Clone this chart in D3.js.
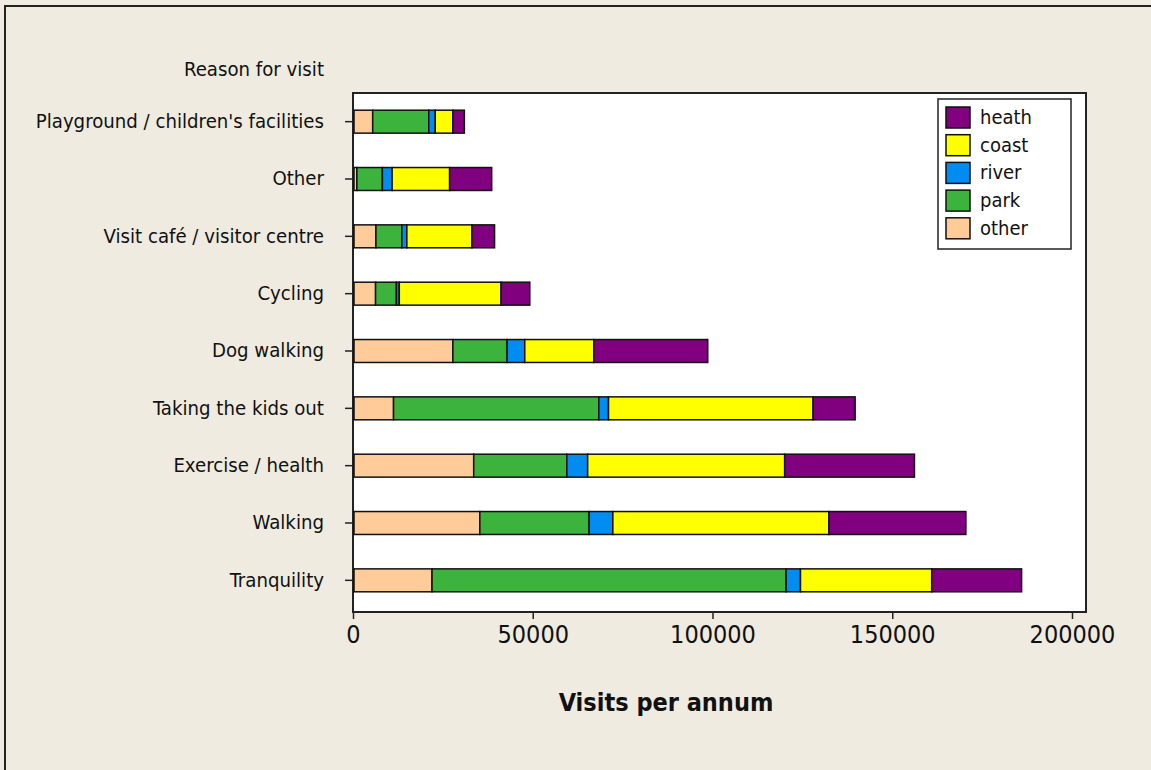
<!DOCTYPE html>
<html>
<head>
<meta charset="utf-8">
<script src="https://cdn.jsdelivr.net/npm/d3@7"></script>
<style>
  body { margin: 0; background: #efebe0; }
  svg { display: block; }
  text { font-family: "DejaVu Sans Condensed", "DejaVu Sans", sans-serif; fill: #111; }
</style>
</head>
<body>
<svg id="chart" width="1151" height="770"></svg>
<script>
// reasons, top to bottom
var reasons = ["Playground / children's facilities", "Other", "Visit café / visitor centre", "Cycling",
	"Dog walking", "Taking the kids out", "Exercise / health", "Walking", "Tranquility"];

// visits per annum by site type
var other = [5200, 800, 6100, 6000, 27500, 11000, 33300, 35000, 21700];
var park  = [15600, 7100, 7200, 5800, 15100, 57100, 25900, 30400, 98500];
var river = [1800, 2700, 1400, 800, 4900, 2700, 5800, 6600, 4000];
var coast = [4900, 16000, 18100, 28300, 19200, 56900, 54800, 60100, 36500];
var heath = [3200, 11700, 6300, 8000, 31700, 11700, 36100, 38100, 25000];

var keys = ["other", "park", "river", "coast", "heath"];
var colours = ["#ffcc99", "#3cb33c", "#008cf0", "#ffff00", "#800080"];
var xTicks = [0, 50000, 100000, 150000, 200000];

var margin = {top: 93, left: 353, right: 65, bottom: 159};

var svg = d3.select("#chart");

// outer frame
svg.append("rect")
	.attr("x", 5).attr("y", 6)
	.attr("width", 1160).attr("height", 780)
	.attr("fill", "#efebe0")
	.attr("stroke", "#222")
	.attr("stroke-width", 2);

var width = 1151 - margin.left - margin.right,
	height = 770 - margin.top - margin.bottom;

var x = d3.scaleLinear()
	.domain([0, 200000])
	.range([0, 1072 - margin.left]);

var y = d3.scaleBand()
	.domain(reasons)
	.range([0, 516])
	.paddingInner(0.6)
	.paddingOuter(0.3);

var g = svg.append("g")
	.attr("transform", "translate(" + margin.left + "," + margin.top + ")");

g.append("rect")
	.attr("width", 1086 - margin.left)
	.attr("height", height + 1)
	.attr("fill", "#fff")
	.attr("stroke", "#222")
	.attr("stroke-width", 2);

var table = reasons.map(function(r, i) {
	return {reason: r, other: other[i], park: park[i], river: river[i], coast: coast[i], heath: heath[i]};
});

var series = d3.stack().keys(keys)(table);

g.selectAll("g.layer")
	.data(series)
	.enter().append("g")
	.attr("class", "layer")
	.attr("fill", function(d, i) { return colours[i]; })
	.selectAll("rect")
	.data(function(d) { return d; })
	.enter().append("rect")
	.attr("x", function(d) { return x(d[0]) + 1; })
	.attr("y", function(d) { return y(d.data.reason); })
	.attr("width", function(d) { return Math.max(0, x(d[1]) - x(d[0])); })
	.attr("height", y.bandwidth())
	.attr("stroke", "#111")
	.attr("stroke-width", 1.5);

// x axis
var xAxis = g.append("g")
	.attr("transform", "translate(0," + (height + 1) + ")")
	.call(d3.axisBottom(x).tickValues(xTicks).tickFormat(d3.format("d")).tickSize(7).tickPadding(6).tickSizeOuter(0));
xAxis.select(".domain").remove();
xAxis.selectAll("line").attr("stroke", "#222").attr("stroke-width", 1.5);
xAxis.selectAll("text").style("font-size", "25px").attr("fill", "#111")
	.style("font-family", "'DejaVu Sans Condensed', 'DejaVu Sans', sans-serif");

// y axis
var yAxis = g.append("g")
	.call(d3.axisLeft(y).tickSize(8).tickPadding(21).tickSizeOuter(0));
yAxis.select(".domain").remove();
yAxis.selectAll("line").attr("stroke", "#222").attr("stroke-width", 1.5);
yAxis.selectAll("text").style("font-size", "20.2px").attr("fill", "#111")
	.style("font-family", "'DejaVu Sans Condensed', 'DejaVu Sans', sans-serif");

svg.append("text")
	.attr("x", 324).attr("y", 76)
	.attr("text-anchor", "end")
	.style("font-size", "20.2px")
	.text("Reason for visit");

svg.append("text")
	.attr("x", 666).attr("y", 711)
	.attr("text-anchor", "middle")
	.style("font-size", "25px")
	.style("font-weight", "bold")
	.text("Visits per annum");

// legend, heath first
var legend = svg.append("g").attr("transform", "translate(938,99)");
legend.append("rect")
	.attr("width", 133).attr("height", 150)
	.attr("fill", "#fff").attr("stroke", "#222").attr("stroke-width", 1.5);

var order = keys.slice().reverse();
var item = legend.selectAll("g.item")
	.data(order)
	.enter().append("g")
	.attr("class", "item")
	.attr("transform", function(d, i) { return "translate(8," + (8 + i * 27.7) + ")"; });

item.append("rect")
	.attr("width", 24).attr("height", 21)
	.attr("fill", function(d) { return colours[keys.indexOf(d)]; })
	.attr("stroke", "#111").attr("stroke-width", 1.5);

item.append("text")
	.attr("x", 34).attr("y", 17)
	.style("font-size", "20px")
	.text(function(d) { return d; });
</script>
</body>
</html>
